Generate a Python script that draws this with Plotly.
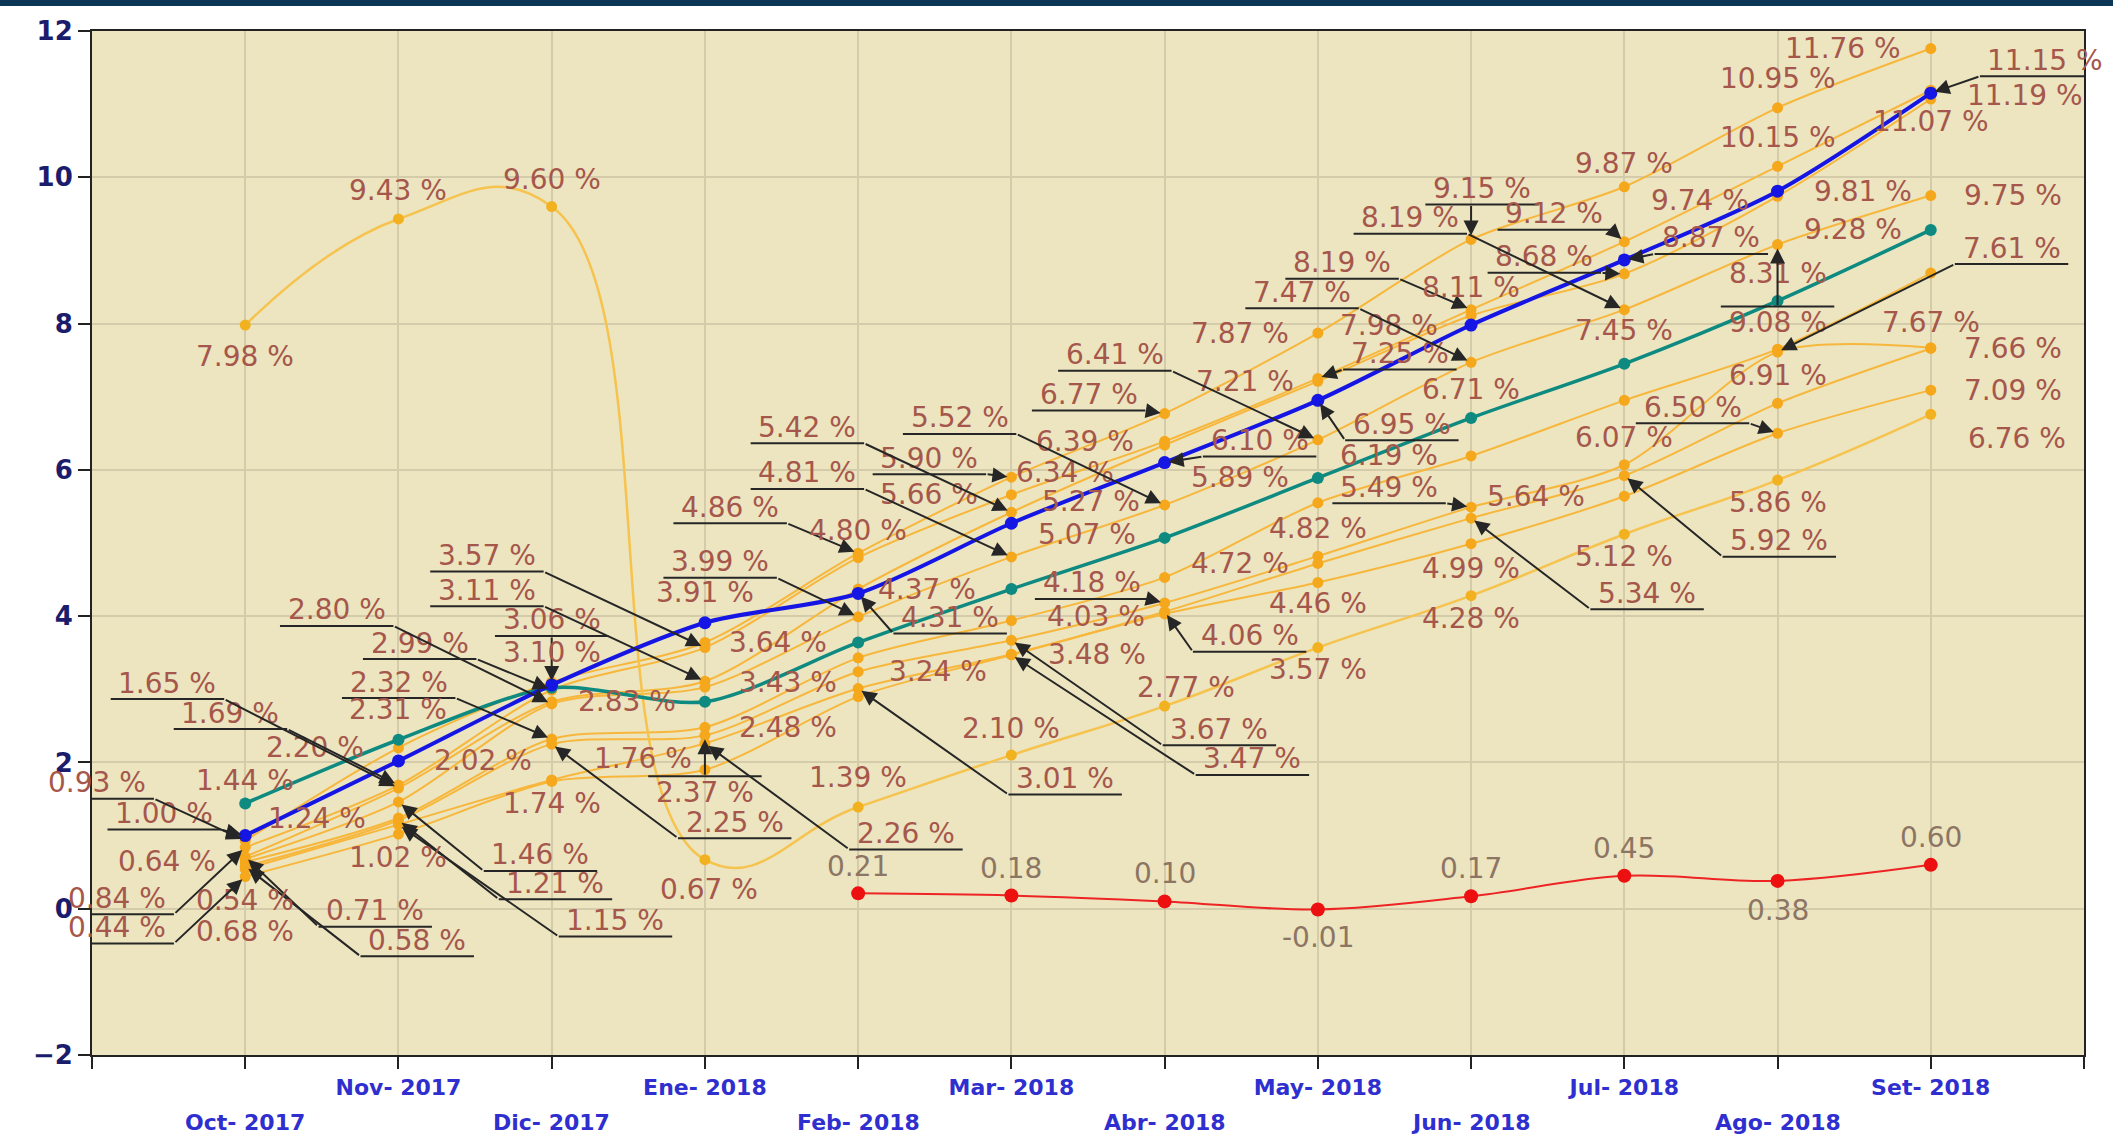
import plotly.graph_objects as go

# ---------------- data ----------------
months = ["Oct- 2017", "Nov- 2017", "Dic- 2017", "Ene- 2018", "Feb- 2018", "Mar- 2018",
          "Abr- 2018", "May- 2018", "Jun- 2018", "Jul- 2018", "Ago- 2018", "Set- 2018"]

blue_vals = [1.00, 2.02, 3.06, 3.91, 4.31, 5.27, 6.10, 6.95, 7.98, 8.87, 9.81, 11.15]
teal_vals = [1.44, 2.31, 3.02, 2.83, 3.64, 4.37, 5.07, 5.89, 6.71, 7.45, 8.31, 9.28]
ytd_vals = [7.98, 9.43, 9.60, 0.67, 1.39, 2.10, 2.77, 3.57, 4.28, 5.12, 5.86, 6.76]
red_months = months[4:]
red_vals = [0.21, 0.18, 0.10, -0.01, 0.17, 0.45, 0.38, 0.60]

s1 = [0.93, 2.20, 3.10, 3.64, 4.86, 5.90, 6.77, 7.87, 9.15, 9.87, 10.95, 11.76]
s2 = [0.84, 1.69, 2.99, 3.57, 4.80, 5.66, 6.39, 7.25, 8.19, 9.12, 10.15, 11.19]
s3 = [0.71, 1.65, 2.83, 3.11, 4.37, 5.42, 6.34, 7.21, 8.11, 8.68, 9.74, 11.07]
s4 = [0.68, 1.46, 2.80, 3.03, 3.99, 4.81, 5.52, 6.41, 7.47, 8.19, 9.08, 9.75]
s5 = [0.64, 1.24, 2.32, 2.48, 3.43, 3.94, 4.53, 5.55, 6.19, 6.95, 7.65, 8.69]
s6 = [0.58, 1.21, 2.25, 2.37, 3.24, 3.67, 4.18, 4.82, 5.49, 6.07, 7.61, 7.67]
s7 = [0.54, 1.15, 1.76, 2.26, 3.01, 3.48, 4.06, 4.72, 5.34, 5.92, 6.91, 7.66]
s8 = [0.44, 1.02, 1.74, 1.90, 2.90, 3.47, 4.03, 4.46, 4.99, 5.64, 6.50, 7.09]

series = {"S1": s1, "S2": s2, "S3": s3, "S4": s4, "S5": s5, "S6": s6, "S7": s7, "S8": s8,
          "Y": ytd_vals, "T": teal_vals, "B": blue_vals, "R": red_vals}

# ---------------- label placement (pixel offsets from the point, style) ----------------
P, U, O = "plain", "under", "over"
LABELS = {
    "Y": [(0, 31, P), (0, -28, P), (0, -27, P), (4, 30, P), (0, -30, P), (0, -27, P),
          (21, -19, P), (0, 22, P), (0, 23, P), (0, 22, P), (0, 22, P), (86, 24, P)],
    "R": [(0, -27, P), (0, -27, P), (0, -28, P), (0, 28, P), (0, -28, P), (0, -27, P),
          (0, 30, P), (0, -27, P)],
    "B": [(-81, -22, U), (85, 0, P), (0, -65, U), (0, -30, P), (92, 24, U), (80, -22, P),
          (95, -22, U), (84, 24, U), (-82, 0, P), (87, -22, U), (85, 0, P), (114, -33, U)],
    "T": [(0, -23, P), (0, -30, P), None, (-78, 0, P), (-80, 0, P), (-84, 0, P),
          (-78, -3, P), (-78, 0, P), (0, -28, P), (0, -33, P), (0, -27, P), (-78, 0, P)],
    "S1": [(-148, -58, U), (-83, 0, P), (0, -29, P), None, (-128, -46, U), (-82, -19, U),
           (-76, -19, U), (-78, 0, P), (11, -51, U), (0, -23, P), (0, -29, P), (-88, 0, P)],
    "S2": [(-128, 51, U), (-168, -72, U), (-132, -47, U), (-218, -92, U), (0, -27, P), (-82, 0, P),
           (-80, 0, P), (82, -25, U), (-129, -47, U), (-70, -28, U), (0, -29, P), (94, 5, P)],
    "S3": [(130, 54, U), (-231, -105, U), None, (-218, -91, U), None, (-204, -85, U),
           (-100, 28, P), (-73, 0, P), (0, -28, P), (-80, -17, U), (-78, 4, P), (0, 22, P)],
    "S4": [(0, 73, P), (142, 53, U), (-215, -94, U), None, (-138, -55, U), (-204, -84, U),
           (-205, -87, U), (-203, -85, U), (-169, -70, U), (-214, -92, U), (0, 78, O), (82, 0, P)],
    "S5": [(-78, 0, P), (-81, 0, P), (-153, -57, U), (83, 0, P), (-70, 25, P), None,
           None, None, (-82, 0, P), None, None, None],
    "S6": [(172, 74, U), (157, 63, U), (183, 78, U), (0, 57, O), (80, 0, P), (208, 89, U),
           (-73, -20, U), (0, -28, P), (-82, -20, U), (0, -27, P), (234, -104, U), (0, -25, P)],
    "S7": [(0, 31, P), (217, 96, U), (91, -21, P), (201, 90, U), (207, 90, U), (86, 0, P),
           (85, 24, U), (-78, 0, P), (176, 75, U), (155, 65, U), (0, -28, P), (82, 0, P)],
    "S8": [(-128, 51, U), (0, 23, P), (0, 22, P), None, None, (241, 104, U),
           (-69, 3, P), (0, 21, P), (0, 25, P), (-88, 0, P), (-85, -26, U), (82, 0, P)],
}

FS = 28
LABEL_FONT = dict(family="DejaVu Sans", size=FS, color="#a6574b")
RED_FONT = dict(family="DejaVu Sans", size=FS, color="#8d7563")
LEADER = "#262626"

# ---------------- traces ----------------
fig = go.Figure()
x_all = list(range(len(months)))
x_red = [months.index(m) for m in red_months]

for key in ["S1", "S2", "S3", "S4", "S5", "S6", "S7", "S8"]:
    fig.add_trace(go.Scatter(
        x=x_all, y=series[key], mode="lines+markers",
        line=dict(color="#f7b73c", width=2, shape="spline", smoothing=0.8),
        marker=dict(color="#f5a81c", size=11), showlegend=False, hoverinfo="skip"))
fig.add_trace(go.Scatter(
    x=x_all, y=ytd_vals, mode="lines+markers",
    line=dict(color="#f6c34e", width=2.5, shape="spline", smoothing=1.3),
    marker=dict(color="#f2b11f", size=11), showlegend=False, hoverinfo="skip"))
fig.add_trace(go.Scatter(
    x=x_all, y=teal_vals, mode="lines+markers",
    line=dict(color="#0e8a80", width=3.5, shape="spline", smoothing=0.8),
    marker=dict(color="#0e8a80", size=12), showlegend=False, hoverinfo="skip"))
fig.add_trace(go.Scatter(
    x=x_all, y=blue_vals, mode="lines+markers",
    line=dict(color="#1616e4", width=4, shape="spline", smoothing=0.8),
    marker=dict(color="#1616e4", size=13), showlegend=False, hoverinfo="skip"))
fig.add_trace(go.Scatter(
    x=x_red, y=red_vals, mode="lines+markers",
    line=dict(color="#ee2424", width=2, shape="spline", smoothing=1),
    marker=dict(color="#ec1010", size=14), showlegend=False, hoverinfo="skip"))

# ---------------- labels & callouts ----------------
annotations = []
shapes = [dict(type="rect", xref="paper", yref="paper", x0=-0.05, x1=1.02,
               y0=1 + 25 / 1024, y1=1 + 31 / 1024, fillcolor="#0c3656",
               line=dict(width=0), layer="above")]

for key, specs in LABELS.items():
    vals = series[key]
    xs = x_red if key == "R" else x_all
    fmt = "{:.2f}" if key == "R" else "{:.2f} %"
    font = RED_FONT if key == "R" else LABEL_FONT
    for i, spec in enumerate(specs):
        if spec is None:
            continue
        dx, dy, style = spec
        x, v = xs[i], vals[i]
        text = fmt.format(v)
        annotations.append(dict(x=x, y=v, xref="x", yref="y", text=text, showarrow=False,
                                xshift=dx, yshift=-dy, font=font))
        if style in (U, O):
            w = 0.58 * FS * len(text)
            yl = dy + 16 if style == U else dy - 16
            xl, xr = dx - w / 2 - 8, dx + w / 2 + 8
            shapes.append(dict(type="line", xref="x", yref="y", xsizemode="pixel",
                               ysizemode="pixel", xanchor=x, yanchor=v,
                               x0=xl, x1=xr, y0=-yl, y1=-yl,
                               line=dict(color=LEADER, width=2)))
            if xl <= 0 <= xr:
                ax = 0
            elif xr < 0:
                ax = xr
            else:
                ax = xl
            annotations.append(dict(x=x, y=v, xref="x", yref="y", text="", showarrow=True,
                                    ax=ax, ay=yl, arrowhead=2, arrowsize=1.5, arrowwidth=2,
                                    arrowcolor=LEADER, standoff=4))

# second row of month labels (even positions)
TICK_FONT = dict(family="DejaVu Sans", size=22, color="#2f2fd0", weight="bold")
for i, m in enumerate(months):
    if i % 2 == 0:
        annotations.append(dict(x=i, y=0, xref="x", yref="paper", text=m, showarrow=False,
                                yanchor="middle", yshift=-67, font=TICK_FONT))

tickvals = list(range(-1, 13))
ticktext = [months[i] if (0 <= i < len(months) and i % 2 == 1) else "" for i in tickvals]

fig.update_layout(
    width=2113, height=1137,
    margin=dict(l=92, r=29, t=31, b=82),
    paper_bgcolor="white", plot_bgcolor="#ece5c0",
    shapes=shapes, annotations=annotations,
)
fig.update_xaxes(
    type="linear", range=[-1, 12], tickmode="array", tickvals=tickvals, ticktext=ticktext,
    showgrid=True, gridcolor="#d3cbaa", gridwidth=2,
    showline=True, linecolor="#222", linewidth=2, mirror=True,
    ticks="outside", ticklen=12, tickwidth=2, tickcolor="#222",
    tickfont=TICK_FONT, zeroline=False)
fig.update_yaxes(
    range=[-2, 12], tickmode="array", tickvals=list(range(-2, 13, 2)),
    showgrid=True, gridcolor="#d3cbaa", gridwidth=2,
    showline=True, linecolor="#222", linewidth=2, mirror=True,
    ticks="outside", ticklen=12, tickwidth=2, tickcolor="#222",
    tickfont=dict(family="DejaVu Sans", size=26, color="#1c1c6c", weight="bold"),
    zeroline=False)

fig.write_html("out.html", config={"displayModeBar": False},
               post_script="document.body.style.margin='0';")
